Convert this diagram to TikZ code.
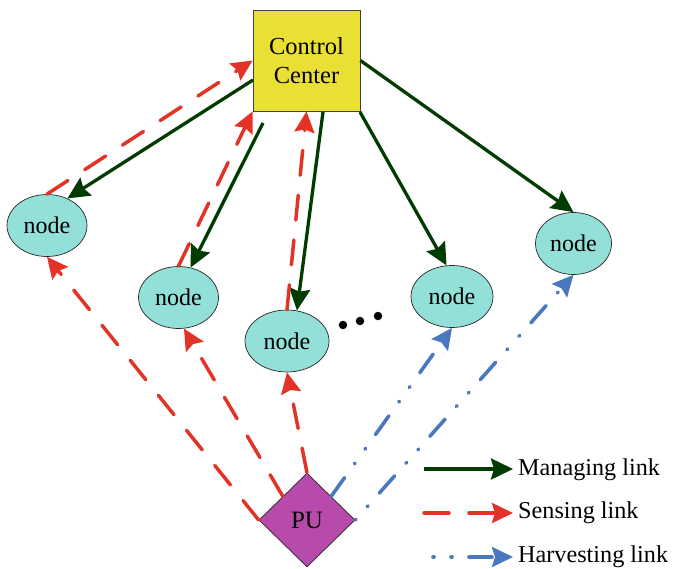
\documentclass[tikz,border=0pt]{standalone}
\usepackage{fontspec}
\setmainfont{Liberation Serif}
\usetikzlibrary{arrows.meta,shapes.geometric,calc}
\definecolor{ccyellow}{RGB}{234,224,52}
\definecolor{nodecyan}{RGB}{146,224,216}
\definecolor{pumag}{RGB}{183,74,170}
\definecolor{mgreen}{RGB}{0,60,0}
\definecolor{sred}{RGB}{227,50,38}
\definecolor{hblue}{RGB}{74,120,190}
\tikzset{
  ccbox/.style={rectangle, draw=black!75, line width=0.8pt, fill=ccyellow, minimum width=107pt, minimum height=101pt, inner sep=0pt, align=center, font=\fontsize{24.5}{29}\selectfont},
  nd/.style={ellipse, draw=black!85, line width=0.7pt, fill=nodecyan, minimum height=62pt, inner sep=0pt, font=\fontsize{24}{27}\selectfont},
  pubox/.style={diamond, draw=black!85, line width=0.7pt, fill=pumag, minimum width=96pt, minimum height=94pt, inner sep=0pt, font=\fontsize{25}{28}\selectfont},
  legtext/.style={anchor=west, inner sep=0pt, font=\fontsize{24.2}{27}\selectfont},
  manage/.style={draw=mgreen, line width=3.3pt, -{Stealth[length=22pt,width=21pt,inset=3pt]}},
  sense/.style={draw=sred, line width=3.5pt, line cap=round, dash pattern=on 25pt off 20pt, -{Stealth[length=21pt,width=20pt,inset=3pt]}},
  harvest/.style={draw=hblue, line width=3.6pt, line cap=round, dash pattern=on 23pt off 17pt on 1pt off 17pt on 1pt off 17pt, -{Stealth[length=21pt,width=20pt,inset=3pt]}},
  dotmark/.style={circle, fill=black, inner sep=0pt, minimum size=8.5pt}
}
\begin{document}
\begin{tikzpicture}[x=1pt,y=-1pt]
\useasboundingbox (0,0) rectangle (674,569);
% main nodes
\node[ccbox] (cc) at (306.5,60.5) {Control\\Center};
\node[nd, minimum width=80pt] (n1) at (47,225.5) {node};
\node[nd, minimum width=80pt] (n2) at (178.5,297.5) {node};
\node[nd, minimum width=84pt] (n3) at (287,341) {node};
\node[nd, minimum width=82pt] (n4) at (452,296.5) {node};
\node[nd, minimum width=76pt] (n5) at (573.5,243.5) {node};
\node[pubox] (pu) at (307,520) {PU};
% ellipsis dots
\node[dotmark] (d1) at (343,325) {};
\node[dotmark] (d2) at (360,321) {};
\node[dotmark] (d3) at (378,316) {};
% free ends at the control center
\coordinate (cm1) at (253,80);
\coordinate (cm2) at (263,123);
\coordinate (cm3) at (323,112);
\coordinate (cm4) at (360,112);
% managing links
\draw[manage] (cm1) -- (n1.53);
\draw[manage] (cm2) -- (n2.68);
\draw[manage] (cm3) -- (n3.72);
\draw[manage] (cm4) -- (n4.100);
\draw[manage] (cc.east) -- (n5.north);
% sensing links
\draw[sense] (n1.north) -- (cc.west);
\draw[sense] (n2.north) -- (cc.south west);
\draw[sense] (n3.north) -- (cc.south);
\draw[sense] (pu.west) -- (n1.south);
\draw[sense] (pu.north west) -- (n2.-80);
\draw[sense] (pu.north) -- (n3.south);
% harvesting links
\draw[harvest] (pu.north east) -- (n4.south);
\draw[harvest, dash phase=40pt] (pu.east) -- (n5.south);
% legend
\node[legtext] (lm) at (518,470) {Managing link};
\node[legtext] (ls) at (518,513) {Sensing link};
\node[legtext] (lh) at (518,557) {Harvesting link};
\coordinate (lm0) at (424,469);
\coordinate (ls0) at (424,513);
\coordinate (lh0) at (433,557);
\draw[manage, shorten >=5pt] (lm0) -- (lm0 -| lm.west);
\draw[sense, shorten >=5pt] (ls0) -- (ls0 -| ls.west);
\draw[harvest, dash phase=40pt, shorten >=5pt] (lh0) -- (lh0 -| lh.west);
\end{tikzpicture}
\end{document}
